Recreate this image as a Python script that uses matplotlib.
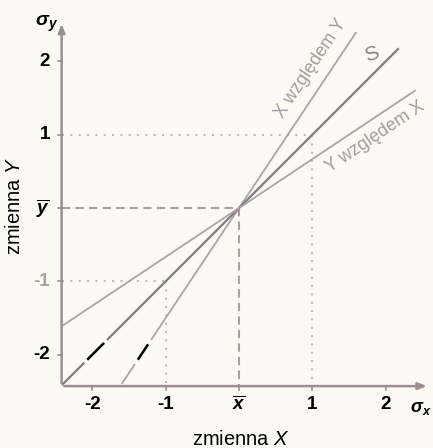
import matplotlib
matplotlib.use("Agg")
import matplotlib.pyplot as plt
import numpy as np

plt.rcParams['font.family'] = ['Liberation Sans', 'DejaVu Sans']
plt.rcParams['mathtext.fontset'] = 'custom'
plt.rcParams['mathtext.it'] = 'Liberation Sans:italic'
plt.rcParams['mathtext.bf'] = 'Liberation Sans:italic:bold'
plt.rcParams['mathtext.rm'] = 'Liberation Sans'

# --- data ---
line_names = ["X względem Y", "S", "Y względem X"]
line_slopes = [1.5, 1.0, 2.0 / 3.0]
line_x0 = [-1.6, -2.42, -2.42]
line_x1 = [1.6, 2.18, 2.41]
line_colors = ["#aba3a7", "#85797e", "#aba3a7"]
line_widths = [1.3, 1.6, 1.3]

label_pos = [(0.98, 1.90), (1.81, 2.09), (1.86, 0.97)]
label_sizes = [13, 15, 13]
label_rot = [56.3, 20, 33.7]

x_ticks = [-2, -1, 0, 1, 2]
x_ticklabels = ["-2", "-1", r"$\mathbf{\overline{x}}$", "1", "2"]
y_ticks = [-2, -1, 0, 1, 2]
y_ticklabels = ["-2", "-1", r"$\mathbf{\overline{y}}$", "1", "2"]
y_tick_colors = ["black", "#a8a0a4", "black", "black", "black"]

# black marks on lines (x ranges)
mark_line_idx = [1, 0]
mark_x = [(-2.07, -1.84), (-1.38, -1.24)]

XMIN, XMAX = -2.42, 2.6
YMIN, YMAX = -2.43, 2.55

bg = "#fbfbf4"
axis_col = "#9a8e93"
fig = plt.figure(figsize=(4.33, 4.48), dpi=100, facecolor=bg)
ax = fig.add_axes([61.6 / 433, (448 - 386.1) / 448, 368 / 433, 365 / 448])
ax.set_facecolor(bg)
ax.set_xlim(XMIN, XMAX)
ax.set_ylim(YMIN, YMAX)
for s in ax.spines.values():
    s.set_visible(False)
ax.set_xticks([])
ax.set_yticks([])

# axes with arrows
ax.annotate("", xy=(XMAX, YMIN), xytext=(XMIN, YMIN),
            arrowprops=dict(arrowstyle="-|>,head_length=0.5,head_width=0.2", color=axis_col, lw=1.8),
            annotation_clip=False)
ax.annotate("", xy=(XMIN, YMAX), xytext=(XMIN, YMIN),
            arrowprops=dict(arrowstyle="-|>,head_length=0.5,head_width=0.2", color=axis_col, lw=1.8),
            annotation_clip=False)

# guide lines
dot_col = "#c9b7bc"
ax.plot([XMIN, 1], [1, 1], ls=(0, (1, 3)), color=dot_col, lw=1.5)
ax.plot([1, 1], [1, YMIN], ls=(0, (1, 3)), color=dot_col, lw=1.5)
ax.plot([XMIN, -1], [-1, -1], ls=(0, (1, 3)), color=dot_col, lw=1.5)
ax.plot([-1, -1], [-1, YMIN], ls=(0, (1, 3)), color=dot_col, lw=1.5)
dash_col = "#a89ea3"
ax.plot([XMIN, 0], [0, 0], ls=(0, (4, 2.5)), color=dash_col, lw=1.5)
ax.plot([0, 0], [0, YMIN], ls=(0, (4, 2.5)), color=dash_col, lw=1.5)

# regression lines
for name, k, x0, x1, c, w in zip(line_names, line_slopes, line_x0, line_x1, line_colors, line_widths):
    xs = np.array([x0, x1])
    ax.plot(xs, k * xs, color=c, lw=w, solid_capstyle="butt")

# labels on lines
for name, (lx, ly), fs, ang in zip(line_names, label_pos, label_sizes, label_rot):
    ax.text(lx, ly, name, rotation=ang, rotation_mode="anchor", ha="center", va="center",
            color="#a39b9f" if name != "S" else "#8e8388", fontsize=fs)

# black marks with white gaps
for i, (a, b) in zip(mark_line_idx, mark_x):
    k = line_slopes[i]
    ax.plot([a - 0.04, b + 0.04], [k * (a - 0.04), k * (b + 0.04)], color=bg, lw=4, solid_capstyle="butt")
    ax.plot([a, b], [k * a, k * b], color="black", lw=1.8, solid_capstyle="butt")

# ticks
for t in x_ticks:
    ax.plot([t, t], [YMIN, YMIN - 0.05], color=axis_col, lw=1.2, clip_on=False)
for t in y_ticks:
    ax.plot([XMIN, XMIN - 0.05], [t, t], color=axis_col, lw=1.2, clip_on=False)

for t, lab in zip(x_ticks, x_ticklabels):
    ax.text(t, YMIN - 0.13, lab, ha="center", va="top", fontsize=13.5, fontweight="bold", color="black")
for t, lab, c in zip(y_ticks, y_ticklabels, y_tick_colors):
    ax.text(XMIN - 0.16, t, lab, ha="right", va="center", fontsize=13.5, fontweight="bold", color=c)

# sigma labels
fig.text(35 / 433, 1 - 24 / 448, r"$\mathbf{\sigma_y}$", fontsize=14, ha="left", va="center")
fig.text(410 / 433, 1 - 408 / 448, r"$\mathbf{\sigma_x}$", fontsize=13, ha="left", va="center")

# axis titles
fig.text(241 / 433, 1 - 439 / 448, "zmienna $X$", fontsize=14.5, ha="center", va="center")
fig.text(15 / 433, 1 - 206 / 448, "zmienna $Y$", fontsize=14.5, ha="center", va="center", rotation=90)

fig.savefig("out.png", dpi=100, facecolor=bg)
